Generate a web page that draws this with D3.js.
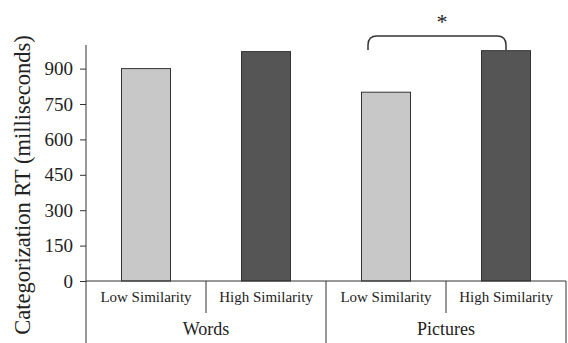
<!DOCTYPE html>
<html>
<head>
<meta charset="utf-8">
<script src="https://cdn.jsdelivr.net/npm/d3@7"></script>
<style>
  body { margin: 0; background: #fff; }
  text { font-family: "Liberation Serif", "Times New Roman", serif; fill: #222; }
</style>
</head>
<body>
<div id="chart"></div>
<script>
// data
const groups = ['Words', 'Pictures'];
const conditions = ['Low Similarity', 'High Similarity'];
const values = [[900, 972], [800, 976]];
const yTicks = [0, 150, 300, 450, 600, 750, 900];
const barColors = ['#c8c8c8', '#555555'];

const width = 568, height = 343;
const plot = { left: 86, right: 566, top: 45, base: 281 };

const svg = d3.select('#chart').append('svg')
  .attr('width', width)
  .attr('height', height);

const cats = [];
groups.forEach((g, gi) => conditions.forEach((c, ci) => {
  cats.push({ key: `${g}|${c}`, group: g, cond: c, ci, value: values[gi][ci] });
}));

const x = d3.scaleBand().domain(cats.map(d => d.key)).range([plot.left, plot.right]);
const xg = d3.scaleBand().domain(groups).range([plot.left, plot.right]);
const y = d3.scaleLinear().domain([0, 1000]).range([plot.base, plot.top]);

const barW = 49;

// bars
svg.selectAll('rect.bar')
  .data(cats)
  .enter()
  .append('rect')
  .attr('class', 'bar')
  .attr('x', d => x(d.key) + x.bandwidth() / 2 - barW / 2)
  .attr('y', d => y(d.value))
  .attr('width', barW)
  .attr('height', d => plot.base - y(d.value))
  .attr('fill', d => barColors[d.ci])
  .attr('stroke', '#333')
  .attr('stroke-width', 1);

// y axis
const yAxis = svg.append('g')
  .attr('transform', `translate(${plot.left},0)`)
  .call(d3.axisLeft(y).tickValues(yTicks).tickSize(6).tickPadding(7));
yAxis.select('.domain').remove();
yAxis.selectAll('line').attr('stroke', '#333');
yAxis.selectAll('text')
  .style('font-family', '"Liberation Serif", serif')
  .style('font-size', '19px')
  .attr('fill', '#222');

const lineColor = '#333';
// vertical axis line, extending through the category table
svg.append('line')
  .attr('x1', plot.left).attr('x2', plot.left)
  .attr('y1', y(1000)).attr('y2', height)
  .attr('stroke', lineColor);
// baseline
svg.append('line')
  .attr('x1', plot.left).attr('x2', plot.right)
  .attr('y1', plot.base).attr('y2', plot.base)
  .attr('stroke', lineColor);
// group dividers (full height)
const gEdges = groups.map(g => xg(g) + xg.bandwidth());
svg.selectAll('line.gdiv')
  .data(gEdges)
  .enter()
  .append('line')
  .attr('x1', d => d).attr('x2', d => d)
  .attr('y1', plot.base).attr('y2', height)
  .attr('stroke', lineColor);
// condition dividers (short)
svg.selectAll('line.cdiv')
  .data(groups)
  .enter()
  .append('line')
  .attr('x1', g => x(`${g}|${conditions[1]}`))
  .attr('x2', g => x(`${g}|${conditions[1]}`))
  .attr('y1', plot.base).attr('y2', 313)
  .attr('stroke', lineColor);

// condition labels
svg.selectAll('text.cond')
  .data(cats)
  .enter()
  .append('text')
  .attr('x', d => x(d.key) + x.bandwidth() / 2)
  .attr('y', 302)
  .attr('text-anchor', 'middle')
  .style('font-size', '15px')
  .text(d => d.cond);

// group labels
svg.selectAll('text.grp')
  .data(groups)
  .enter()
  .append('text')
  .attr('x', g => xg(g) + xg.bandwidth() / 2)
  .attr('y', 335)
  .attr('text-anchor', 'middle')
  .style('font-size', '18px')
  .text(g => g);

// y title
svg.append('text')
  .attr('transform', 'translate(30,185) rotate(-90)')
  .attr('text-anchor', 'middle')
  .style('font-size', '22.5px')
  .text('Categorization RT (milliseconds)');

// significance bracket over Pictures
const bx1 = x('Pictures|Low Similarity') + x.bandwidth() / 2 - 18;
const bx2 = x('Pictures|High Similarity') + x.bandwidth() / 2;
const by = 36, bEnd = 50, r = 9;
svg.append('path')
  .attr('d', `M${bx1},${bEnd} L${bx1},${by + r} Q${bx1},${by} ${bx1 + r},${by} L${bx2 - r},${by} Q${bx2},${by} ${bx2},${by + r} L${bx2},${bEnd}`)
  .attr('fill', 'none')
  .attr('stroke', lineColor)
  .attr('stroke-width', 1.5);
svg.append('text')
  .attr('x', (bx1 + bx2) / 2 + 5)
  .attr('y', 29)
  .attr('text-anchor', 'middle')
  .style('font-size', '22px')
  .text('*');
</script>
</body>
</html>
